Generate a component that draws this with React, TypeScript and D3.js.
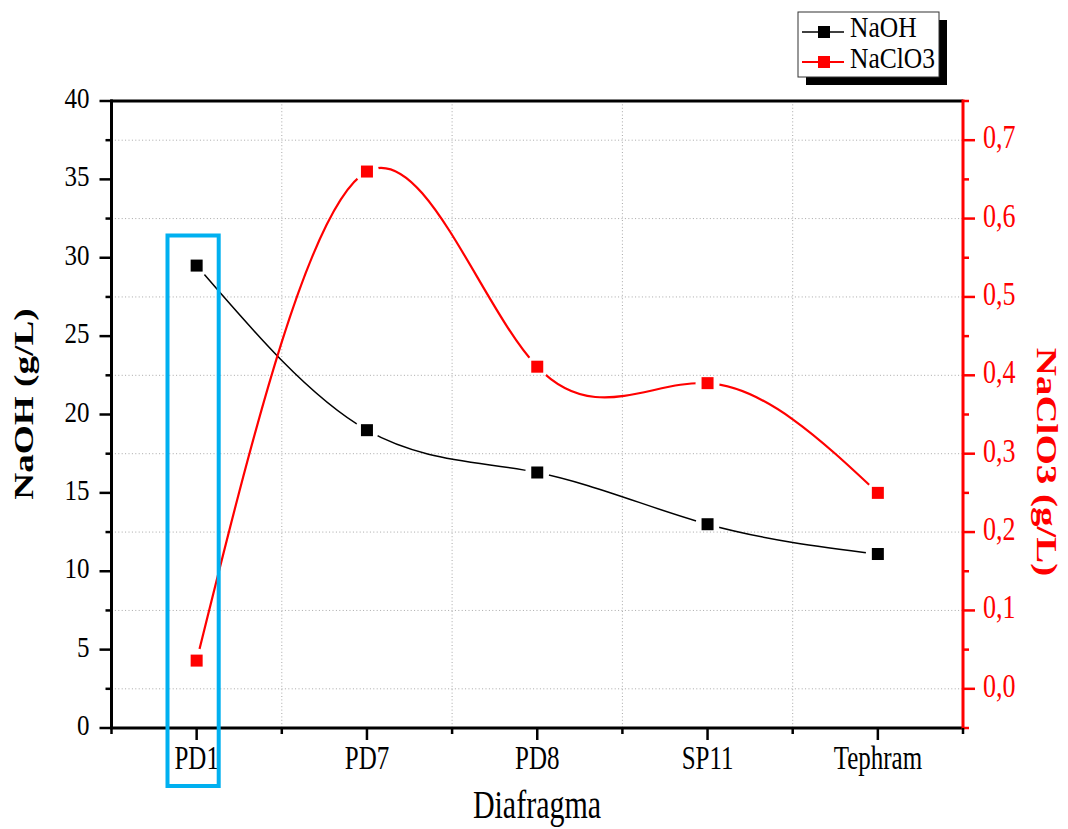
import React from "react";
import * as d3 from "d3";

const categories = ["PD1", "PD7", "PD8", "SP11", "Tephram"];
const naoh = [29.5, 19.0, 16.3, 13.0, 11.1];
const naclo3 = [0.036, 0.66, 0.411, 0.39, 0.25];
const leftTicks = [0, 5, 10, 15, 20, 25, 30, 35, 40];
const leftMinor = [2.5, 7.5, 12.5, 17.5, 22.5, 27.5, 32.5, 37.5];
const rightTicks = [0.0, 0.1, 0.2, 0.3, 0.4, 0.5, 0.6, 0.7];
const rightMinor = [-0.05, 0.05, 0.15, 0.25, 0.35, 0.45, 0.55, 0.65, 0.75];
const xMinor = [0.5, 1.5, 2.5, 3.5, 4.5, 5.5];
const seriesNames = ["NaOH", "NaClO3"];

const W = 1068;
const H = 829;
const L = 111.5, R = 963, T = 101, B = 728;
const FONT = "'Liberation Serif', 'Times New Roman', serif";
const RED = "#ff0000";

const fmt = d3.formatLocale({ decimal: ",", thousands: ".", grouping: [3], currency: ["", ""] }).format(".1f");

export default function App() {
  const x = d3.scaleLinear().domain([0.5, 5.5]).range([L, R]);
  const yL = d3.scaleLinear().domain([0, 40]).range([B, T]);
  const yR = d3.scaleLinear().domain([-0.05, 0.75]).range([B, T]);

  const lineL = d3.line<number>().x((_, i) => x(i + 1)).y((d) => yL(d)).curve(d3.curveNatural);
  const lineR = d3.line<number>().x((_, i) => x(i + 1)).y((d) => yR(d)).curve(d3.curveNatural);

  const gapR = 12;
  const ms = 12;

  const txt = (
    s: string,
    tx: number,
    ty: number,
    opts: { size: number; sy?: number; anchor?: string; fill?: string; weight?: string; rot?: number; key?: string }
  ) => {
    const { size, sy = 1.25, anchor = "start", fill = "#000", weight = "normal", rot = 0, key } = opts;
    const tr = rot
      ? `translate(${tx},${ty}) rotate(${rot}) scale(${sy},1)`
      : `translate(${tx},${ty}) scale(1,${sy})`;
    return (
      <text key={key ?? s + tx + ty} transform={tr} textAnchor={anchor} fontSize={size} fill={fill} fontWeight={weight} fontFamily={FONT}>
        {s}
      </text>
    );
  };

  return (
    <svg width={W} height={H} style={{ position: "absolute", left: 0, top: 0, background: "#fff" }}>
      <defs>
        <mask id="maskL" maskUnits="userSpaceOnUse" x={0} y={0} width={W} height={H}>
          <rect x={0} y={0} width={W} height={H} fill="#fff" />
          {naoh.map((d, i) => (
            <circle key={i} cx={x(i + 1)} cy={yL(d)} r={gapR} fill="#000" />
          ))}
        </mask>
        <mask id="maskR" maskUnits="userSpaceOnUse" x={0} y={0} width={W} height={H}>
          <rect x={0} y={0} width={W} height={H} fill="#fff" />
          {naclo3.map((d, i) => (
            <circle key={i} cx={x(i + 1)} cy={yR(d)} r={gapR} fill="#000" />
          ))}
        </mask>
      </defs>

      {/* grid */}
      {rightTicks.map((v) => (
        <line key={"gh" + v} x1={L} x2={R} y1={yR(v)} y2={yR(v)} stroke="#a8a8a8" strokeWidth={1} strokeDasharray="1,2.4" />
      ))}
      {xMinor.slice(1, -1).map((v) => (
        <line key={"gv" + v} x1={x(v)} x2={x(v)} y1={T} y2={B} stroke="#a8a8a8" strokeWidth={1} strokeDasharray="1,2.4" />
      ))}

      {/* lines */}
      <path d={lineL(naoh) || ""} fill="none" stroke="#000" strokeWidth={1.5} mask="url(#maskL)" />
      <path d={lineR(naclo3) || ""} fill="none" stroke={RED} strokeWidth={2.2} mask="url(#maskR)" />

      {/* markers */}
      {naoh.map((d, i) => (
        <rect key={"mL" + i} x={x(i + 1) - ms / 2} y={yL(d) - ms / 2} width={ms} height={ms} fill="#000" />
      ))}
      {naclo3.map((d, i) => (
        <rect key={"mR" + i} x={x(i + 1) - ms / 2} y={yR(d) - ms / 2} width={ms} height={ms} fill={RED} />
      ))}

      {/* axes frame */}
      <line x1={L - 1} x2={R} y1={T} y2={T} stroke="#000" strokeWidth={3} />
      <line x1={L} x2={L} y1={T - 1.5} y2={B} stroke="#000" strokeWidth={3} />
      <line x1={L - 1.5} x2={R} y1={B} y2={B} stroke="#000" strokeWidth={3} />
      <line x1={R} x2={R} y1={T - 1.5} y2={B + 1.5} stroke={RED} strokeWidth={3} />

      {/* left ticks */}
      {leftTicks.map((v) => (
        <line key={"lt" + v} x1={L - 12} x2={L} y1={yL(v)} y2={yL(v)} stroke="#000" strokeWidth={2.5} />
      ))}
      {leftMinor.map((v) => (
        <line key={"lm" + v} x1={L - 6} x2={L} y1={yL(v)} y2={yL(v)} stroke="#000" strokeWidth={2.5} />
      ))}
      {leftTicks.map((v) => txt(String(v), 89.5, yL(v) + 7, { size: 25, sy: 1.14, anchor: "end", key: "ll" + v }))}

      {/* right ticks */}
      {rightTicks.map((v) => (
        <line key={"rt" + v} x1={R} x2={R + 12} y1={yR(v)} y2={yR(v)} stroke={RED} strokeWidth={2.5} />
      ))}
      {rightMinor.map((v) => (
        <line key={"rm" + v} x1={R} x2={R + 6} y1={yR(v)} y2={yR(v)} stroke={RED} strokeWidth={2.5} />
      ))}
      {rightTicks.map((v) => txt(fmt(v), 983, yR(v) + 8, { size: 26, sy: 1.28, fill: RED, key: "rl" + v }))}

      {/* bottom ticks */}
      {categories.map((c, i) => (
        <line key={"bt" + c} x1={x(i + 1)} x2={x(i + 1)} y1={B} y2={B + 12} stroke="#000" strokeWidth={2.5} />
      ))}
      {xMinor.map((v) => (
        <line key={"bm" + v} x1={x(v)} x2={x(v)} y1={B} y2={B + 6} stroke="#000" strokeWidth={2.5} />
      ))}
      {categories.map((c, i) => txt(c, x(i + 1), 769, { size: 25, sy: 1.38, anchor: "middle", key: "bl" + c }))}

      {/* axis titles */}
      {txt("Diafragma", 537, 818, { size: 30, sy: 1.3, anchor: "middle" })}
      {txt("NaOH (g/L)", 33, 404, { size: 28, sy: 1.33, anchor: "middle", weight: "bold", rot: -90 })}
      {txt("NaClO3 (g/L)", 1037, 462, { size: 30, sy: 1.3, anchor: "middle", weight: "bold", rot: 90, fill: RED })}

      {/* highlight box */}
      <rect x={167.5} y={235.5} width={51.2} height={550.5} fill="none" stroke="#00B0F0" strokeWidth={4} />

      {/* legend */}
      <rect x={806} y={20} width={141} height={65} fill="#000" />
      <rect x={798} y={12} width={141} height={65} fill="#fff" stroke="#333" strokeWidth={1} />
      {seriesNames.map((s, i) => {
        const cy = 32 + i * 30;
        const col = i === 0 ? "#000" : RED;
        return (
          <g key={"lg" + s}>
            <line x1={802} x2={844} y1={cy} y2={cy} stroke={col} strokeWidth={i === 0 ? 1.5 : 2} />
            <rect x={824 - 6} y={cy - 6} width={12} height={12} fill={col} />
            {txt(s, 850, cy + 5 + (i === 0 ? 0 : 1), { size: 25.5, sy: 1.17, key: "lt" + s })}
          </g>
        );
      })}
    </svg>
  );
}
